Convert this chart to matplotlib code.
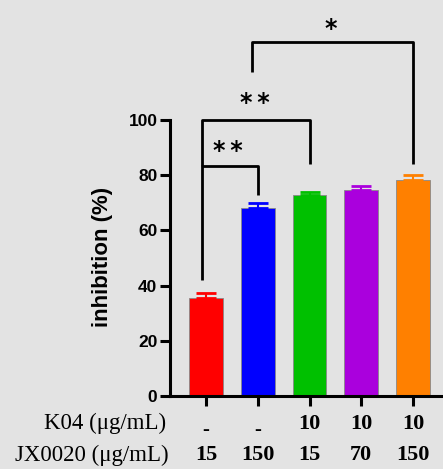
import numpy as np
import matplotlib
matplotlib.use('Agg')
from matplotlib import pyplot as plt

# Values
groups = ['A', 'B', 'C', 'D', 'E']
inhibition = [35.5, 68.2, 72.8, 74.5, 78.3]
sem = [1.8, 1.8, 1.0, 1.7, 1.7]
colors = ['#ff0000', '#0000ff', '#00c000', '#aa00dd', '#ff8000']
k04 = ['-', '-', '10', '10', '10']
jx0020 = ['15', '150', '15', '70', '150']
yticks = [0, 20, 40, 60, 80, 100]

# brackets: (left x, right x, bar y, left leg bottom, right leg bottom, text, text x, text y)
brackets = [(-0.08, 1.0, 83.3, 42.0, 72.8, '*\u2009*', 0.43, 88.7),
            (-0.08, 2.0, 100.0, 83.3, 84.0, '*\u2009*', 0.95, 106.0),
            (0.88, 4.0, 128.4, 117.4, 84.0, '*', 2.42, 133.0)]

bg = '#e3e3e3'
fig = plt.figure(figsize=(4.43, 4.69), dpi=100, facecolor=bg)
ax = fig.add_axes([170 / 443, 73 / 469, 273 / 443, 396 / 469])
ax.set_facecolor(bg)

x = np.arange(len(groups))
ax.bar(x, inhibition, width=0.65, color=colors, edgecolor='#888888', linewidth=0.6, zorder=2)
for xi, v, e, c in zip(x, inhibition, sem, colors):
    ax.errorbar(xi, v, yerr=[[0], [e]], color=c, capsize=7, capthick=2, elinewidth=1.5, zorder=3)

ax.set_xlim(-0.696, 4.58)
ax.set_ylim(0, 143.5)
ax.set_yticks(yticks)
ax.set_yticklabels([str(t) for t in yticks], fontfamily='Liberation Sans', fontweight='bold', fontsize=12.5)
ax.set_xticks(x)
ax.set_xticklabels([])
ax.tick_params(axis='both', width=2.2, length=7, color='black')
ax.tick_params(axis='y', pad=2)
for s in ['top', 'right']:
    ax.spines[s].set_visible(False)
ax.spines['left'].set_bounds(0, 100)
ax.spines['left'].set_linewidth(2.2)
ax.spines['bottom'].set_linewidth(2.2)
ax.set_ylabel('inhibition (%)', fontfamily='Liberation Sans', fontweight='bold', fontsize=16)
ax.yaxis.set_label_coords(-0.21, 0.351)

for x0, x1, yb, l0, l1, txt, tx, ty in brackets:
    ax.plot([x0, x0, x1, x1], [l0, yb, yb, l1], color='black', lw=2, solid_capstyle='butt', zorder=4)
    ax.text(tx, ty, txt, ha='center', va='center', fontsize=17, fontweight='bold', fontfamily='DejaVu Sans')

# table of concentrations below the axis
row_y = [-10.0, -21.5]
ax.text(-0.77, row_y[0], 'K04 (\u03bcg/mL)', ha='right', va='center', fontfamily='Liberation Serif', fontsize=16.5, clip_on=False)
ax.text(-0.73, row_y[1], 'JX0020 (\u03bcg/mL)', ha='right', va='center', fontfamily='Liberation Serif', fontsize=16.5, clip_on=False)
for xi, a, b in zip(x, k04, jx0020):
    if a == '-':
        ax.text(xi, row_y[0] - 2.2, '-', ha='center', va='center', fontfamily='Liberation Serif', fontweight='bold', fontsize=15, clip_on=False)
    else:
        ax.text(xi, row_y[0], a, ha='center', va='center', fontfamily='Liberation Serif', fontweight='bold', fontsize=16, clip_on=False)
    ax.text(xi, row_y[1], b, ha='center', va='center', fontfamily='Liberation Serif', fontweight='bold', fontsize=16, clip_on=False)

fig.savefig('out.png', dpi=100, facecolor=bg)
